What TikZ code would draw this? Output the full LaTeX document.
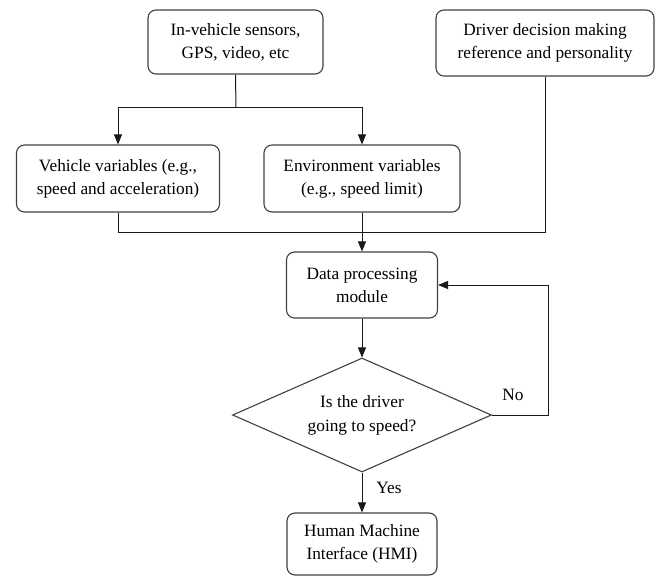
\documentclass[tikz,border=0pt]{standalone}
\usepackage{fontspec}
\setmainfont{Liberation Serif}
\newfontfamily\timesfont{Liberation Serif}
\usepackage{tikz}
\usetikzlibrary{shapes.geometric}
\usetikzlibrary{arrows.meta}

\begin{document}
\begin{tikzpicture}[x=1pt,y=-1pt,
  box/.style={draw=black!75,line width=1.1pt,rounded corners=8pt,align=center,
    font=\timesfont\fontsize{17.3}{23}\selectfont,inner sep=0pt},
  choice/.style={draw=black!75,line width=1.1pt,diamond,aspect=2.27,align=center,
    font=\timesfont\fontsize{17.3}{24}\selectfont,inner sep=0pt,
    minimum width=259pt,minimum height=114pt},
  lbl/.style={font=\timesfont\fontsize{17.3}{23}\selectfont},
  arr/.style={-{Triangle[width=8pt,length=10pt]}},
  line/.style={black!90,line width=1pt}]
\useasboundingbox (0,0) rectangle (658,577);

\node [box,minimum width=175pt,minimum height=64pt] (sensors) at (235.5,42) {In-vehicle sensors,\\GPS, video, etc};
\node [box,minimum width=218pt,minimum height=66pt] (driver) at (545,43) {Driver decision making\\reference and personality};

\node [box,minimum width=203pt,minimum height=67pt] (vehicle) at (118,178.5) {Vehicle variables (e.g.,\\speed and acceleration)};
\node [box,minimum width=196pt,minimum height=67pt] (environment) at (362,178.5) {Environment variables\\(e.g., speed limit)};

\node [box,minimum width=151pt,minimum height=66pt] (data) at (362,285) {Data processing\\module};
\node [choice] (decision) at (362,415) {Is the driver\\going to speed?};
\node [box,minimum width=150pt,minimum height=62pt] (hmi) at (362,544) {Human Machine\\Interface (HMI)};

% split and merge
\coordinate (split) at (236,108);
\coordinate (merge) at (362,233);
\draw [line] (sensors.south) -- (split);
\draw [line] [arr] (split) -| (vehicle.north);
\draw [line] [arr] (split) -| (environment.north);

\draw [line] (vehicle.south) |- (merge);
\draw [line] (driver.south) |- (merge);
\draw [line] [arr] (environment.south) -- (data.north);

% decision
\draw [line] [arr] (data.south) -- (decision.north);
\draw [line] [arr] (decision.east) -- ++(56,0) |- (data.east);
\node [lbl] (no) at (513,395) {No};
\draw [line] [arr] (decision.south) -- (hmi.north);
\node [lbl] (yes) at (389,488) {Yes};
\end{tikzpicture}
\end{document}
